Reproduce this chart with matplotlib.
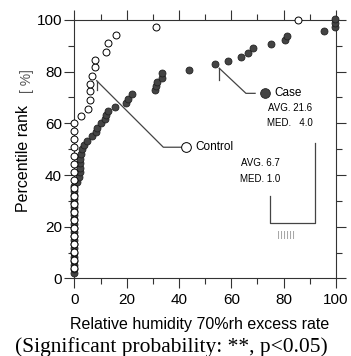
import matplotlib
matplotlib.use("Agg")
import matplotlib.pyplot as plt
from matplotlib.ticker import MultipleLocator

# Control group (open circles): excess rate [%] vs percentile rank [%]
control_rate = [0, 0, 0, 0, 0, 0, 0, 0, 0, 0, 0, 0, 0, 0, 0, 0, 0, 0, 0,
                2.7, 5.1, 5.9, 5.9, 5.9, 6.9, 7.8, 7.8, 12.1, 12.9, 15.8, 31.1, 85.6]
control_rank = [3.9, 7.0, 10.1, 13.3, 16.4, 19.5, 22.6, 25.7, 28.8, 32.0,
                35.1, 38.2, 41.3, 44.4, 47.5, 50.7, 53.8, 56.9, 60.0,
                62.8, 65.7, 69.0, 72.6, 75.2, 78.3, 81.7, 84.5, 87.7, 91.0,
                94.3, 97.2, 100.0]

# Case group (filled circles)
case_rate = [0, 0, 0, 0, 0, 0, 0, 0, 0, 0, 0, 0, 0, 0, 0, 0, 0, 0, 0, 0, 0, 0,
             1.1, 1.8, 2.1, 2.1, 2.1, 2.1, 2.4, 3.0, 3.7, 4.7, 6.6, 8.1, 8.8,
             10.1, 11.6, 12.2, 13.0, 15.4, 19.6, 20.6, 22.2,
             30.8, 31.1, 31.7, 33.5, 33.6, 43.9, 53.6, 58.6, 63.6, 66.5, 68.2,
             75.2, 80.5, 81.4, 95.3, 99.7, 99.7, 99.7]
case_rank = [2.0, 3.6, 5.2, 6.8, 8.4, 10.0, 11.6, 13.2, 14.8, 16.4, 18.0,
             19.6, 21.2, 22.8, 24.4, 26.0, 27.6, 29.2, 30.8, 32.4, 34.0, 35.6,
             37.4, 39.4, 41.2, 42.9, 44.6, 46.2, 48.2, 50.0, 51.6, 53.3, 54.9,
             56.6, 58.3, 60.0, 61.6, 63.2, 64.8, 66.5, 68.0, 69.4, 71.4,
             72.9, 74.5, 76.1, 77.7, 79.6, 80.8, 82.9, 84.1, 85.8, 87.4, 89.0,
             90.7, 92.3, 93.8, 95.7, 97.2, 98.7, 100.2]

case_stats = ["AVG. 21.6", "MED.   4.0"]
control_stats = ["AVG. 6.7", "MED. 1.0"]

plt.rcParams['font.family'] = ['Liberation Sans', 'DejaVu Sans']
line_c = '#444444'

fig = plt.figure(figsize=(3.51, 3.56), dpi=100)
ax = fig.add_axes([0.212, 0.218, 0.745, 0.726])

ax.plot(case_rate, case_rank, 'o', ms=5.0, mfc='#444444', mec='#222222',
        mew=0.6, clip_on=False, zorder=3)
ax.plot(control_rate, control_rank, 'o', ms=5.0, mfc='white', mec='black',
        mew=0.7, clip_on=False, zorder=4)

ax.set_xlim(0, 100)
ax.set_ylim(0, 100)
ax.xaxis.set_major_locator(MultipleLocator(20))
ax.xaxis.set_minor_locator(MultipleLocator(10))
ax.yaxis.set_major_locator(MultipleLocator(20))
ax.yaxis.set_minor_locator(MultipleLocator(10))
ax.tick_params(which='both', direction='out', top=True, right=True,
               color='#333333', width=0.8, labelsize=11)
ax.tick_params(axis='x', pad=3.5)
ax.tick_params(axis='y', pad=2)
ax.tick_params(which='major', length=7)
ax.tick_params(which='minor', length=4.5)
for s in ax.spines.values():
    s.set_color('#333333')
    s.set_linewidth(0.8)

# Case leader and legend
ax.plot([55.4, 55.4], [76.8, 81.3], color=line_c, lw=0.9, clip_on=False)
ax.plot([55.4, 65.6, 69.1], [81.3, 71.6, 71.6], color=line_c, lw=0.9, clip_on=False)
ax.plot([72.9], [71.6], 'o', ms=7, mfc='#444444', mec='#222222', mew=0.6)
ax.text(76.3, 71.6, "Case", fontsize=8.5, va='center', ha='left')
ax.text(74.0, 65.8, case_stats[0], fontsize=7, va='center', ha='left')
ax.text(73.6, 60.0, case_stats[1], fontsize=7, va='center', ha='left')

# Control leader and legend
ax.plot([8.5, 8.5], [72.9, 76.5], color=line_c, lw=0.9)
ax.plot([8.5, 34.0, 40.8], [76.5, 50.75, 50.75], color=line_c, lw=0.9)
ax.plot([42.7], [50.75], 'o', ms=7, mfc='white', mec='black', mew=0.7)
ax.text(46.3, 50.75, "Control", fontsize=8.5, va='center', ha='left')
ax.text(63.8, 44.6, control_stats[0], fontsize=7, va='center', ha='left')
ax.text(63.3, 38.4, control_stats[1], fontsize=7, va='center', ha='left')

# stray bracket and faint marks
ax.plot([74.8, 74.8, 92.0, 92.0], [31.9, 21.6, 21.6, 52.3], color=line_c, lw=0.9)
ax.text(77.3, 16.5, "IIIIII", fontsize=8, color='#a8a8a8', va='center', ha='left')

fig.text(0.066, 1 - 159 / 356, "Percentile rank", rotation=90, fontsize=11.5,
         ha='center', va='center')
fig.text(0.077, 1 - 81 / 356, "[ %]", rotation=90, fontsize=10, color='#555555',
         ha='center', va='center')
fig.text(0.57, 1 - 325 / 356, "Relative humidity 70%rh excess rate", fontsize=11.5,
         ha='center', va='center')
fig.text(0.488, 1 - 347 / 356, "(Significant probability: **, p<0.05)",
         fontsize=15.5, family=['Liberation Serif'], ha='center', va='center')

fig.savefig("out.png", dpi=100)
